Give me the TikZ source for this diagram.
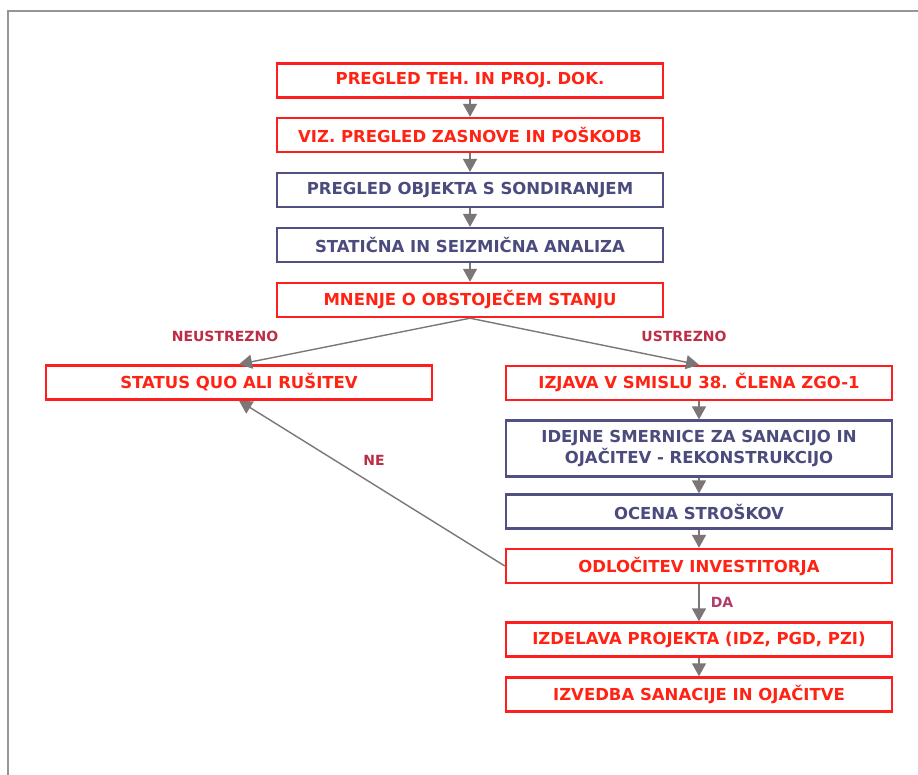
\documentclass[tikz,border=0pt]{standalone}
\usepackage{fontspec}
\setmainfont{DejaVu Sans}
\usetikzlibrary{arrows.meta}
\definecolor{boxred}{RGB}{255,30,30}
\definecolor{txtred}{RGB}{255,35,20}
\definecolor{boxblue}{RGB}{80,80,130}
\definecolor{txtblue}{RGB}{75,75,125}
\definecolor{lblred}{RGB}{190,45,70}
\definecolor{lblda}{RGB}{175,60,105}
\definecolor{arrgray}{RGB}{125,118,118}
\definecolor{framegray}{RGB}{150,150,150}
\begin{document}
\begin{tikzpicture}[x=1pt,y=-1pt,
  redbox/.style={draw=boxred, line width=2.4pt, text=txtred,
    font=\fontsize{16.5}{21}\selectfont\bfseries,
    minimum height=34pt, minimum width=386pt, inner sep=0pt, align=center},
  bluebox/.style={redbox, draw=boxblue, line width=2.2pt, text=txtblue},
  flow/.style={draw=arrgray, line width=1.4pt,
    -{Triangle[width=14pt,length=13pt,fill=arrgray]}},
  lbl/.style={text=lblred, font=\fontsize{14}{17}\selectfont\bfseries, inner sep=0pt}]
\useasboundingbox (0,0) rectangle (918,775);
\fill[white] (0,0) rectangle (918,775);
\draw[framegray, line width=1.5pt] (8,775) -- (8,11) -- (918,11);

\node[redbox]  (n1)  at (470,80.5) {PREGLED TEH. IN PROJ. DOK.};
\node[redbox]  (n2)  at (470,135)  {VIZ. PREGLED ZASNOVE IN POŠKODB};
\node[bluebox] (n3)  at (470,190)  {PREGLED OBJEKTA S SONDIRANJEM};
\node[bluebox] (n4)  at (470,245)  {STATIČNA IN SEIZMIČNA ANALIZA};
\node[redbox]  (n5)  at (470,300)  {MNENJE O OBSTOJEČEM STANJU};
\node[redbox]  (nq)  at (239,382.5){STATUS QUO ALI RUŠITEV};
\node[redbox]  (n7)  at (699,383)  {IZJAVA V SMISLU 38. ČLENA ZGO-1};
\node[bluebox, minimum height=56pt] (n8) at (699,448.5)
  {IDEJNE SMERNICE ZA SANACIJO IN\\OJAČITEV - REKONSTRUKCIJO};
\node[bluebox] (n9)  at (699,511.5) {OCENA STROŠKOV};
\node[redbox]  (n10) at (699,566)   {ODLOČITEV INVESTITORJA};
\node[redbox]  (n11) at (699,639.5) {IZDELAVA PROJEKTA (IDZ, PGD, PZI)};
\node[redbox]  (n12) at (699,694.5) {IZVEDBA SANACIJE IN OJAČITVE};

\draw[flow] (n1) -- (n2);
\draw[flow] (n2) -- (n3);
\draw[flow] (n3) -- (n4);
\draw[flow] (n4) -- (n5);
\draw[flow] (n5.south) -- (nq.north);
\draw[flow] (n5.south) -- (n7.north);
\draw[flow] (n7) -- (n8);
\draw[flow] (n8) -- (n9);
\draw[flow] (n9) -- (n10);
\draw[flow] (n10.west) -- (nq.south);
\draw[flow] (n10) -- (n11);
\draw[flow] (n11) -- (n12);

\node[lbl] (l1) at (225,336) {NEUSTREZNO};
\node[lbl] (l2) at (684,336) {USTREZNO};
\node[lbl] (l3) at (374,460) {NE};
\node[lbl, text=lblda] (l4) at (722,602) {DA};
\end{tikzpicture}
\end{document}
